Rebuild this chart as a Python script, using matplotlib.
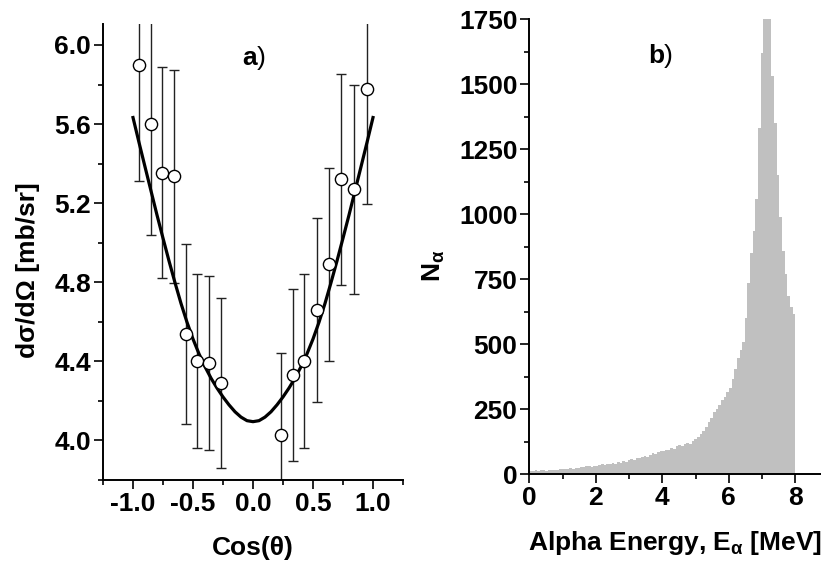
import matplotlib
matplotlib.use('Agg')
import matplotlib.pyplot as plt
import numpy as np
from matplotlib.ticker import MultipleLocator, FormatStrFormatter

plt.rcParams['font.family'] = ['Liberation Sans', 'DejaVu Sans']
plt.rcParams['font.weight'] = 'bold'
plt.rcParams['axes.labelweight'] = 'bold'
plt.rcParams['font.size'] = 19
plt.rcParams['mathtext.default'] = 'regular'
plt.rcParams['axes.unicode_minus'] = False

# panel a) angular distribution
cos_theta = [-0.95, -0.85, -0.756, -0.66, -0.562, -0.467, -0.37, -0.27,
             0.23, 0.33, 0.428, 0.53, 0.633, 0.735, 0.84, 0.947]
dsigma = [5.90, 5.60, 5.355, 5.335, 4.54, 4.40, 4.39, 4.29,
          4.03, 4.33, 4.40, 4.66, 4.89, 5.32, 5.27, 5.775]
dsigma_err = [0.59, 0.56, 0.535, 0.54, 0.455, 0.44, 0.44, 0.43,
              0.41, 0.435, 0.44, 0.465, 0.49, 0.535, 0.53, 0.58]

# fitted curve
fit_cos = [-1.0, -0.95, -0.9, -0.85, -0.8, -0.75, -0.7, -0.65, -0.6, -0.55, -0.5,
           -0.45, -0.4, -0.35, -0.3, -0.25, -0.2, -0.15, -0.1, -0.05, 0.0,
           0.05, 0.1, 0.15, 0.2, 0.25, 0.3, 0.35, 0.4, 0.45, 0.5,
           0.55, 0.6, 0.65, 0.7, 0.75, 0.8, 0.85, 0.9, 0.95, 1.0]
fit_val = [5.633, 5.507, 5.384, 5.262, 5.140, 5.023, 4.908, 4.798, 4.693, 4.598, 4.513,
           4.438, 4.373, 4.315, 4.265, 4.220, 4.180, 4.145, 4.118, 4.100, 4.095,
           4.100, 4.118, 4.145, 4.180, 4.220, 4.265, 4.315, 4.373, 4.438, 4.513,
           4.598, 4.693, 4.798, 4.908, 5.023, 5.140, 5.262, 5.384, 5.507, 5.633]

# panel b) alpha energy spectrum, bins of 0.08 MeV from 0 to 8 MeV
e_min, e_max, n_bins = 0.0, 8.0, 100
counts = [14, 13, 15, 12, 16, 15, 14, 16, 17, 15,
          18, 20, 19, 22, 21, 24, 22, 26, 25, 29,
          27, 31, 30, 28, 33, 31, 35, 38, 36, 41,
          39, 43, 41, 47, 45, 50, 48, 54, 58, 56,
          63, 61, 67, 70, 68, 75, 80, 78, 86, 90,
          88, 95, 93, 101, 98, 108, 112, 110, 117, 120,
          118, 127, 134, 142, 155, 168, 180, 203, 218, 240,
          252, 268, 284, 296, 318, 332, 368, 405, 448, 478,
          510, 600, 735, 850, 935, 1060, 1330, 1620, 1900, 1950,
          1850, 1530, 1350, 1150, 990, 860, 770, 685, 645, 615]
edges = np.linspace(e_min, e_max, n_bins + 1)

fig = plt.figure(figsize=(8.21, 5.66), dpi=100)
ax1 = fig.add_axes([103 / 821, 86 / 566, 300 / 821, 456 / 566])
ax2 = fig.add_axes([529.3 / 821, 91.7 / 566, 291.7 / 821, 455 / 566])

# --- left panel
ax1.errorbar(cos_theta, dsigma, yerr=dsigma_err, fmt='none', ecolor='#222222',
             elinewidth=1, capsize=3.3, capthick=1, zorder=2)
ax1.plot(fit_cos, fit_val, color='black', lw=2.3, zorder=3)
ax1.plot(cos_theta, dsigma, 'o', mfc='white', mec='black', ms=8.8, mew=1, zorder=4)

ax1.set_xlim(-1.25, 1.25)
ax1.set_ylim(3.8, 6.106)
ax1.xaxis.set_major_locator(MultipleLocator(0.5))
ax1.xaxis.set_minor_locator(MultipleLocator(0.25))
ax1.yaxis.set_major_locator(MultipleLocator(0.4))
ax1.yaxis.set_minor_locator(MultipleLocator(0.2))
ax1.xaxis.set_major_formatter(FormatStrFormatter('%.1f'))
ax1.yaxis.set_major_formatter(FormatStrFormatter('%.1f'))
ax1.text(0.033, 5.90, 'a', ha='right', va='baseline', fontweight='bold')
ax1.text(0.033, 5.90, ')', ha='left', va='baseline', fontweight='normal')
ax1.set_xlabel('Cos(θ)')
ax1.xaxis.set_label_coords(0.5, -0.123)
ax1.set_ylabel('dσ/dΩ [mb/sr]')
ax1.yaxis.set_label_coords(-0.21, 0.46)

# --- right panel
ax2.stairs(counts, edges, fill=True, color='#c0c0c0', lw=0)
ax2.set_xlim(0, 8.77)
ax2.set_ylim(0, 1750)
ax2.xaxis.set_major_locator(MultipleLocator(2))
ax2.xaxis.set_minor_locator(MultipleLocator(1))
ax2.yaxis.set_major_locator(MultipleLocator(250))
ax2.yaxis.set_minor_locator(MultipleLocator(125))
ax2.text(4.05, 1581, 'b', ha='right', va='baseline', fontweight='bold')
ax2.text(4.05, 1581, ')', ha='left', va='baseline', fontweight='normal')
ax2.set_xlabel(r'Alpha Energy, E$_\alpha$ [MeV]')
ax2.xaxis.set_label_coords(0.5, -0.12)
ax2.set_ylabel(r'N$_\alpha$')
ax2.yaxis.set_label_coords(-0.282, 0.459)

for ax in (ax1, ax2):
    ax.spines['top'].set_visible(False)
    ax.spines['right'].set_visible(False)
    ax.spines['left'].set_linewidth(1.4)
    ax.spines['bottom'].set_linewidth(1.4)
    ax.tick_params(which='major', direction='out', length=6.5, width=1.2, pad=2)
    ax.tick_params(which='minor', direction='out', length=3.6, width=1.2)
    ax.set_facecolor('none')

fig.savefig('out.png', dpi=100)
